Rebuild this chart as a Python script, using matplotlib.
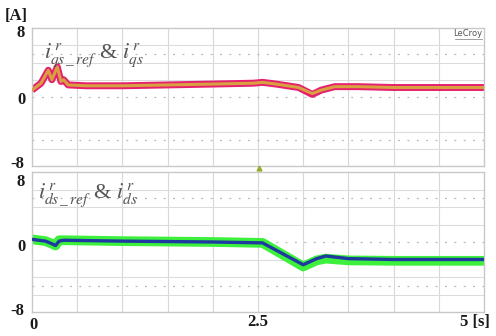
import matplotlib
matplotlib.use("Agg")
import matplotlib.pyplot as plt
import numpy as np

# ---- data ----
t_qs = [0.0, 0.1, 0.18, 0.22, 0.28, 0.32, 0.35, 0.40, 0.6, 1.0, 1.5, 2.0, 2.45, 2.55, 2.7, 2.95, 3.1, 3.2, 3.35, 3.6, 4.0, 5.0]
qs_meas = [0.8, 1.6, 3.1, 2.0, 3.5, 1.8, 2.0, 1.4, 1.3, 1.3, 1.4, 1.5, 1.6, 1.7, 1.5, 1.1, 0.3, 0.8, 1.2, 1.2, 1.1, 1.1]
qs_ref = [0.8, 1.6, 3.1, 2.0, 3.5, 1.8, 2.0, 1.4, 1.3, 1.3, 1.4, 1.5, 1.6, 1.7, 1.5, 1.1, 0.4, 0.8, 1.2, 1.2, 1.1, 1.1]

t_ds = [0.0, 0.15, 0.22, 0.26, 0.30, 0.35, 1.0, 2.0, 2.55, 3.0, 3.15, 3.25, 3.5, 4.0, 5.0]
ds_meas = [0.3, 0.1, -0.2, -0.4, 0.2, 0.2, 0.1, 0.0, -0.1, -2.8, -2.1, -1.9, -2.1, -2.15, -2.15]
ds_ref = [0.3, 0.1, -0.2, -0.4, 0.1, 0.2, 0.1, 0.0, -0.1, -2.6, -1.9, -1.6, -1.9, -2.0, -2.0]

y_ticks = [8, 0, -8]
x_ticks = ["0", "2.5", "5 [s]"]

W, H = 496, 336
fig = plt.figure(figsize=(W / 100, H / 100), dpi=100)
fig.patch.set_facecolor("white")

def fx(px):
    return px / W

def fy(py):
    return 1 - py / H

ax1 = fig.add_axes([fx(32), fy(166), fx(484) - fx(32), fy(28) - fy(166)])
ax2 = fig.add_axes([fx(32), fy(312), fx(484) - fx(32), fy(172) - fy(312)])

for ax in (ax1, ax2):
    ax.set_xlim(0, 5)
    ax.set_ylim(-8, 8)
    ax.set_xticks([])
    ax.set_yticks([])
    for sp in ax.spines.values():
        sp.set_color("#c8c8c8")
        sp.set_linewidth(1.0)
    for xv in np.arange(0.5, 5.0, 0.5):
        ax.axvline(xv, color="#d8d8d8", lw=0.8, zorder=0)
    for yv in [-6, -4, -2, 2, 4, 6]:
        ax.axhline(yv, color="#dcdcdc", lw=0.8, zorder=0)
    for yv in [-5, 0, 5]:
        ax.axhline(yv, color="#b8b8b8", lw=0.9, ls=(0, (1.5, 6)), zorder=0)

# top traces
ax1.plot(t_qs, qs_meas, color="#e6206e", lw=5.0, solid_capstyle="butt", zorder=2)
ax1.plot(t_qs, qs_ref, color="#d8a040", lw=2.2, zorder=3)
# bottom traces
ax2.plot(t_ds, ds_meas, color="#3cf03c", lw=7.0, solid_capstyle="butt", zorder=2)
ax2.plot(t_ds, ds_ref, color="#1e3aa0", lw=2.4, zorder=3)

serif = ["Liberation Serif", "DejaVu Serif"]
tk = dict(fontsize=12, fontweight="bold", family=serif, color="#1a1a1a")

fig.text(fx(5), fy(16), "[A]", ha="left", va="center", **tk)
# y labels top panel
fig.text(fx(21), fy(33), "8", ha="center", va="center", **tk)
fig.text(fx(21), fy(100), "0", ha="center", va="center", **tk)
fig.text(fx(17), fy(164), "-8", ha="center", va="center", **tk)
# y labels bottom panel
fig.text(fx(21), fy(182), "8", ha="center", va="center", **tk)
fig.text(fx(21), fy(247), "0", ha="center", va="center", **tk)
fig.text(fx(17), fy(311), "-8", ha="center", va="center", **tk)
# x labels
fig.text(fx(33), fy(325), x_ticks[0], ha="center", va="center", **tk)
fig.text(fx(258), fy(322), x_ticks[1], ha="center", va="center", **tk)
fig.text(fx(475), fy(322), x_ticks[2], ha="center", va="center", **tk)

plt.rcParams["mathtext.fontset"] = "stix"
lab = dict(fontsize=16, color="#555555", family=serif, ha="left", va="baseline")
fig.text(fx(44), fy(58), r"$i^{\,r}_{qs\,\_\,ref}$ & $i^{\,r}_{qs}$", **lab)
fig.text(fx(38), fy(198), r"$i^{\,r}_{ds\,\_\,ref}$ & $i^{\,r}_{ds}$", **lab)

fig.text(fx(482), fy(34), "LeCroy", fontsize=6, color="#555555", ha="right", va="center",
         family=["DejaVu Sans"])
fig.add_artist(plt.Line2D([fx(455), fx(482)], [fy(39), fy(39)], color="#777777", lw=0.5))

# small trigger marker between panels
fig.add_artist(plt.Line2D([fx(259)], [fy(168)], marker="^", ms=3.5, color="#9aaa30", mec="#9aaa30"))

fig.savefig("out.png", dpi=100)
